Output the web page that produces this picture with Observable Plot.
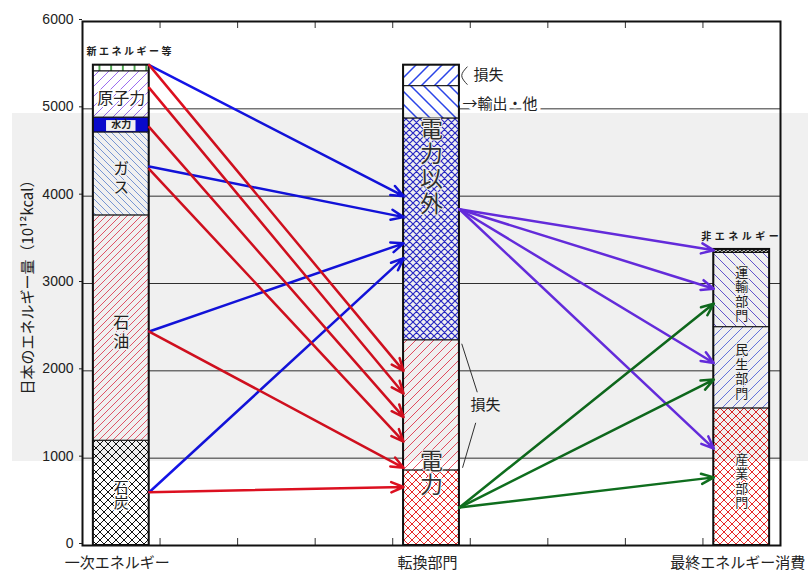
<!DOCTYPE html>
<html>
<head>
<meta charset="utf-8">
<script src="https://cdn.jsdelivr.net/npm/d3@7"></script>
<script src="https://cdn.jsdelivr.net/npm/@observablehq/plot@0.6"></script>
<style>
  body { margin: 0; background: #fff; }
  #chart { position: relative; width: 808px; height: 571px; }
  #band { position: absolute; left: 12px; top: 113px; width: 796px; height: 348px;
          background: rgba(0, 0, 0, 0.06); pointer-events: none; }
</style>
</head>
<body>
<div id="chart"><div id="band"></div></div>
<script>
// 段階（横軸）
const stages = ["一次エネルギー", "転換部門", "最終エネルギー消費"];

// 一次エネルギー供給（下から積み上げ, 10^12 kcal）
const primaryLabels = ["石炭", "石油", "ガス", "水力", "原子力", "新エネルギー等"];
const primaryValues = [1200, 2580, 950, 170, 530, 70];

// 転換部門（下から：電力, 電力の損失, 電力以外, 輸出・他, 損失）
const conversionLabels = ["電力", "損失", "電力以外", "輸出・他", "損失"];
const conversionValues = [860, 1490, 2540, 370, 240];

// 最終エネルギー消費
const finalLabels = ["産業部門", "民生部門", "運輸部門", "非エネルギー"];
const finalValues = [1570, 930, 850, 40];

// 一次エネルギー → 電力以外
const toFuelFrom = [5500, 4340, 2450, 610];
const toFuelTo = [4000, 3760, 3460, 3290];
// 一次エネルギー → 電力
const toPowerFrom = [5500, 5240, 4790, 4310, 2450, 610];
const toPowerTo = [2000, 1740, 1470, 1190, 890, 670];
// 電力以外 → 最終消費
const fuelUseFrom = 3850;
const fuelUseTo = [3380, 2940, 2090, 1110];
// 電力 → 最終消費
const powerUseFrom = 435;
const powerUseTo = [2770, 1900, 780];

const yTicks = [0, 1000, 2000, 3000, 4000, 5000, 6000];

// ---- layout ----
const stageX = [0.5, 4.5, 8.5];
const half = 0.36;
const patternIds = [
  ["coal", "oil", "gas", "hydro", "nuclear", "renew"],
  ["power", "powerLoss", "fuel", "export", "loss"],
  ["industry", "residential", "transport", "nonenergy"]
];

function column(stage, labels, values) {
  const tops = d3.cumsum(values);
  return labels.map((label, i) => ({
    stage, label, index: i,
    x1: stageX[stage] - half, x2: stageX[stage] + half,
    y1: tops[i] - values[i], y2: tops[i],
    mid: tops[i] - values[i] / 2,
    fill: `url(#${patternIds[stage][i]})`
  }));
}
const primary = column(0, primaryLabels, primaryValues);
const conversion = column(1, conversionLabels, conversionValues);
const finals = column(2, finalLabels, finalValues);
const segments = [...primary, ...conversion, ...finals];
const columns = [primaryValues, conversionValues, finalValues].map((v, i) => ({
  x1: stageX[i] - half, x2: stageX[i] + half, total: d3.sum(v)
}));

const blue = "#1414e6", red = "#dc1020", purple = "#6a2ee8", green = "#0f6e1e";
const edgeR = s => stageX[s] + half, edgeL = s => stageX[s] - half;
const flows = [
  ...toFuelFrom.map((v, i) => ({x1: edgeR(0), y1: v, x2: edgeL(1), y2: toFuelTo[i], color: blue})),
  ...toPowerFrom.map((v, i) => ({x1: edgeR(0), y1: v, x2: edgeL(1), y2: toPowerTo[i], color: red})),
  ...fuelUseTo.map(v => ({x1: edgeR(1), y1: fuelUseFrom, x2: edgeL(2), y2: v, color: purple})),
  ...powerUseTo.map(v => ({x1: edgeR(1), y1: powerUseFrom, x2: edgeL(2), y2: v, color: green}))
];

const ink = "#222";

// callouts beside the conversion column
const topLoss = conversion[4], exportSeg = conversion[3], powerLoss = conversion[1];
const bracket = [
  {x: edgeR(1) + 0.1, y: topLoss.y2 - 20},
  {x: edgeR(1) + 0.03, y: topLoss.mid},
  {x: edgeR(1) + 0.1, y: topLoss.y1 + 20}
];
const lossLinks = [
  {x1: edgeR(1) + 0.03, y1: powerLoss.y2 - 40, x2: edgeR(1) + 0.23, y2: powerLoss.mid + 150},
  {x1: edgeR(1) + 0.21, y1: powerLoss.mid - 200, x2: edgeR(1) + 0.04, y2: powerLoss.y1 + 30}
];

const jp = "'Noto Sans CJK JP', 'Noto Sans', sans-serif";
const hydro = primary[3];

const svg = Plot.plot({
  width: 808,
  height: 571,
  marginLeft: 82,
  marginRight: 28,
  marginTop: 21,
  marginBottom: 26,
  style: {fontFamily: jp, background: "transparent", color: ink},
  x: {domain: [0, 9]},
  y: {domain: [0, 6000]},
  color: {type: "identity"},
  marks: [
    Plot.ruleY(yTicks.filter(d => d > 0 && d < 6000), {stroke: "#333", strokeWidth: 1}),
    Plot.rect(segments, {x1: "x1", x2: "x2", y1: "y1", y2: "y2", fill: d => d.fill, stroke: "#111", strokeWidth: 1}),
    Plot.rect(columns, {x1: "x1", x2: "x2", y1: 0, y2: "total", fill: "none", stroke: "#111", strokeWidth: 2}),

    // 一次エネルギーの内訳ラベル（縦書き）
    Plot.text([primary[0]], {
      x: d => stageX[0], y: "mid", text: "label", dy: -3,
      fontSize: 15, fill: ink, stroke: "white", strokeWidth: 3
    }),
    Plot.text(primary.filter(d => d.index === 1 || d.index === 2), {
      x: d => stageX[0], y: "mid", text: "label",
      fontSize: 16, fill: ink, stroke: "white", strokeWidth: 3
    }),
    Plot.rect([hydro], {
      x1: d => stageX[0] - 0.19, x2: d => stageX[0] + 0.19, y1: "y1", y2: "y2",
      insetTop: 3, insetBottom: 1, fill: "white"
    }),
    Plot.text([hydro], {
      x: d => stageX[0], y: "mid", text: "label", fontSize: 10, fontWeight: "bold", fill: ink
    }),
    Plot.text([primary[4]], {
      x: d => stageX[0], y: "mid", text: "label", fontSize: 16, dy: 4,
      fill: ink, stroke: "white", strokeWidth: 3
    }),
    Plot.text([primary[5]], {
      x: d => stageX[0], y: "y2", text: "label", fontSize: 10, fontWeight: "bold",
      dx: 9, dy: -13, fill: ink
    }),

    // 転換部門のラベル
    Plot.text([conversion[2]], {
      x: d => stageX[1], y: "y2", text: "label", dy: -9,
      fontSize: 23, fill: "#333", stroke: "white", strokeWidth: 2
    }),
    Plot.text([conversion[0]], {
      x: d => stageX[1], y: "y2", text: "label", dy: -5,
      fontSize: 23, fill: "#333", stroke: "white", strokeWidth: 2
    }),
    Plot.text([topLoss], {
      x: d => edgeR(1), y: "mid", text: "label", textAnchor: "start", dx: 14, fontSize: 15, fill: ink
    }),
    Plot.line(bracket, {x: "x", y: "y", curve: "natural", stroke: "#333", strokeWidth: 1}),
    Plot.text([exportSeg], {
      x: d => edgeR(1), y: "mid", text: d => "→" + d.label, textAnchor: "start", dx: 3, dy: 2, fontSize: 15,
      fill: ink, stroke: "white", strokeWidth: 7
    }),
    Plot.text([powerLoss], {
      x: d => edgeR(1), y: "mid", text: "label", dx: 26, fontSize: 15, fill: ink
    }),
    Plot.link(lossLinks, {x1: "x1", y1: "y1", x2: "x2", y2: "y2", stroke: "#333", strokeWidth: 1}),

    // 最終エネルギー消費のラベル（縦書き）
    Plot.text(finals.filter(d => d.index <= 2), {
      x: d => stageX[2], y: "mid", text: "label",
      fontSize: 13, fill: ink, stroke: "white", strokeWidth: 2
    }),
    Plot.text([finals[3]], {
      x: d => stageX[2], y: "y2", text: "label", fontSize: 10, fontWeight: "bold",
      dx: 0, dy: -13, fill: ink
    }),

    // エネルギーの流れ
    Plot.arrow(flows, {
      x1: "x1", y1: "y1", x2: "x2", y2: "y2", stroke: d => d.color,
      strokeWidth: 2.5, headLength: 8, headAngle: 45
    }),

    Plot.tickX(d3.range(1, 9), {x: d => d, insetTop: 517, stroke: "#333"}),
    Plot.tickX(d3.range(1, 9), {x: d => d, insetBottom: 517, stroke: "#333"}),
    Plot.frame({stroke: "#111", strokeWidth: 2}),

    Plot.axisY(yTicks, {
      tickSize: 3, fontSize: 14, fontFamily: "'Liberation Sans', sans-serif", label: null,
      tickFormat: d3.format("d"), dy: -2
    }),
    Plot.axisX(stageX, {
      tickSize: 0, tickPadding: 12, fontSize: 15, dx: -4, label: null,
      tickFormat: d => stages[stageX.indexOf(d)]
    }),
    Plot.text(["日本のエネルギー量（10¹²kcal）"], {
      text: d => d, frameAnchor: "left", textAnchor: "middle", rotate: -90, dx: -54, fontSize: 15, fill: ink
    })
  ]
});

// ハッチング模様
const defs = d3.select(svg).insert("defs", ":first-child");
function pattern(id, color, size, width, dirs, bg = "#fff") {
  const s = size;
  const p = defs.append("pattern").attr("id", id).attr("patternUnits", "userSpaceOnUse")
    .attr("width", s).attr("height", s);
  p.append("rect").attr("width", s).attr("height", s).attr("fill", bg);
  let d = "";
  if (dirs.includes("/")) d += `M${-s / 2},${s / 2}L${s / 2},${-s / 2}M0,${s}L${s},0M${s / 2},${s * 1.5}L${s * 1.5},${s / 2}`;
  if (dirs.includes("\\")) d += `M${-s / 2},${s / 2}L${s / 2},${s * 1.5}M0,0L${s},${s}M${s / 2},${-s / 2}L${s * 1.5},${s / 2}`;
  if (dirs.includes("|")) d += `M${s / 2},0L${s / 2},${s}`;
  if (d) p.append("path").attr("d", d).attr("stroke", color).attr("stroke-width", width).attr("fill", "none");
}
pattern("coal", "#111", 8, 1, "/\\");
pattern("oil", "#ec5a6e", 7, 1, "/");
pattern("gas", "#7f9fe0", 7, 1, "\\");
pattern("hydro", "#0a0ad8", 4, 0, "", "#0a0ad8");
pattern("nuclear", "#9b6cf0", 10, 1, "/");
pattern("renew", "#1a8a1a", 11.7, 1.5, "|");
pattern("power", "#e82828", 8, 1, "/\\");
pattern("powerLoss", "#ee5064", 9, 1, "/");
pattern("fuel", "#2a2ad0", 7, 1.2, "/\\");
pattern("export", "#2a44e8", 13, 1.5, "\\");
pattern("loss", "#2a44e8", 13, 1.5, "/");
pattern("industry", "#e82828", 8, 1, "/\\");
pattern("residential", "#6a7ae8", 10, 1, "/");
pattern("transport", "#6a5ad8", 10, 1, "\\");
pattern("nonenergy", "#111", 4, 1.2, "/\\");

const texts = label => d3.select(svg).selectAll("text")
  .filter(function () { return this.textContent === label; });

// 縦書きラベル
function vertical(label, spacing, anchor = "middle") {
  texts(label)
    .attr("writing-mode", "vertical-rl")
    .attr("dy", null)
    .attr("text-anchor", anchor)
    .attr("letter-spacing", spacing);
}
vertical("石炭", 0);
vertical("石油", 3);
vertical("ガス", 3);
vertical("電力以外", 2, "start");
vertical("電力", 1);
["運輸部門", "民生部門", "産業部門"].forEach(l => vertical(l, 1.5));

// 小さな見出しの字間
texts("新エネルギー等").attr("letter-spacing", 2.5);
texts("非エネルギー").attr("letter-spacing", 3.5);

document.getElementById("chart").prepend(svg);
</script>
</body>
</html>
